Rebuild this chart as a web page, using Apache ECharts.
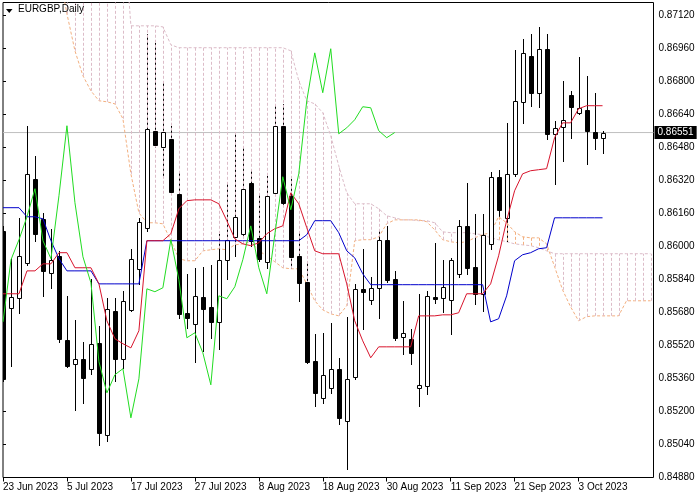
<!DOCTYPE html>
<html><head><meta charset="utf-8">
<script src="https://cdn.jsdelivr.net/npm/echarts@6/dist/echarts.min.js"></script>
<style>html,body{margin:0;padding:0;background:#fff}#c{width:700px;height:500px}</style>
</head><body><div id="c"></div>
<script>
// ---- data (EURGBP Daily, 23 Jun 2023 .. 6 Oct 2023) ----
const opens = [
 0.86075,0.85702,0.85751,0.85920,0.86327,0.86133,0.85872,0.85954,0.85547,0.85431,
 0.85455,0.85407,0.85533,0.85087,0.85688,0.85455,0.85692,0.85891,0.86090,0.86560,
 0.86482,0.86521,0.86254,0.85678,0.85624,0.85755,0.85707,0.85634,0.85935,0.86046,
 0.86061,0.86308,0.86041,0.85925,0.86259,0.86584,0.86245,0.85954,0.85828,0.85446,
 0.85266,0.85315,0.85407,0.85155,0.85368,0.85794,0.85741,0.85799,0.86032,0.85843,
 0.85562,0.85552,0.85315,0.85324,0.85755,0.85751,0.85741,0.85867,0.86099,0.85901,
 0.85770,0.86012,0.86337,0.86138,0.86351,0.86700,0.86923,0.86744,0.86957,0.86545,
 0.86579,0.86734,0.86647,0.86661,0.86555,0.86526];
const closes = [
 0.85358,0.85755,0.85954,0.86351,0.86061,0.85881,0.85935,0.85552,0.85421,0.85455,
 0.85363,0.85528,0.85097,0.85697,0.85455,0.85736,0.85940,0.86119,0.86569,0.86492,
 0.86555,0.86264,0.85673,0.85654,0.85760,0.85697,0.85634,0.85935,0.86032,0.86143,
 0.86279,0.86027,0.85940,0.86245,0.86584,0.86211,0.85949,0.85823,0.85441,0.85290,
 0.85378,0.85407,0.85169,0.85358,0.85794,0.85780,0.85799,0.86032,0.85838,0.85557,
 0.85581,0.85484,0.85329,0.85760,0.85746,0.85804,0.85935,0.86099,0.85896,0.85770,
 0.86056,0.86337,0.86177,0.86351,0.86705,0.86937,0.86744,0.86957,0.86545,0.86574,
 0.86613,0.86676,0.86671,0.86560,0.86526,0.86551];
const lows = [
 0.85349,0.85421,0.85678,0.85911,0.86027,0.85760,0.85799,0.85538,0.85416,0.85208,
 0.85242,0.85383,0.85039,0.85058,0.85349,0.85411,0.85688,0.85818,0.86075,0.86482,
 0.86342,0.86254,0.85654,0.85605,0.85441,0.85494,0.85557,0.85504,0.85843,0.85954,
 0.86046,0.86003,0.85930,0.85896,0.86250,0.86196,0.85896,0.85736,0.85436,0.85228,
 0.85242,0.85290,0.85140,0.84922,0.85358,0.85600,0.85722,0.85654,0.85828,0.85547,
 0.85479,0.85431,0.85228,0.85286,0.85726,0.85683,0.85576,0.85852,0.85867,0.85722,
 0.85688,0.85988,0.86138,0.86027,0.86342,0.86598,0.86681,0.86676,0.86521,0.86303,
 0.86414,0.86526,0.86642,0.86400,0.86472,0.86453];
const highs = [
 0.86099,0.85944,0.86138,0.86584,0.86439,0.86162,0.86085,0.85978,0.85760,0.85644,
 0.85538,0.85843,0.85615,0.85751,0.85751,0.85785,0.85988,0.86138,0.87029,0.86986,
 0.86792,0.86584,0.86357,0.85867,0.85896,0.85901,0.85911,0.86061,0.86303,0.86550,
 0.86487,0.86376,0.86254,0.86342,0.86690,0.86690,0.86327,0.86075,0.85930,0.85576,
 0.85581,0.85629,0.85460,0.85659,0.85818,0.85988,0.85852,0.86075,0.86099,0.85881,
 0.85736,0.85600,0.85770,0.85785,0.86017,0.85935,0.85944,0.86128,0.86308,0.86157,
 0.86157,0.86361,0.86371,0.86598,0.86952,0.87005,0.87029,0.87063,0.87029,0.86608,
 0.86802,0.86753,0.86918,0.86826,0.86744,0.86560];
const tenkan = [
 0.85770,0.85770,0.85770,0.85881,0.85881,0.85915,0.85915,0.85969,0.85969,0.85896,
 0.85896,0.85896,0.85818,0.85639,0.85552,0.85528,0.85508,0.85591,0.86027,0.86027,
 0.86027,0.86061,0.86182,0.86221,0.86225,0.86225,0.86225,0.86206,0.86124,0.86036,
 0.86012,0.86003,0.86017,0.86061,0.86085,0.86099,0.86259,0.86206,0.86090,0.85978,
 0.85964,0.85964,0.85964,0.85818,0.85639,0.85542,0.85460,0.85513,0.85513,0.85513,
 0.85513,0.85513,0.85663,0.85663,0.85663,0.85668,0.85668,0.85678,0.85770,0.85770,
 0.85770,0.85818,0.85954,0.86124,0.86269,0.86351,0.86366,0.86371,0.86376,0.86526,
 0.86598,0.86598,0.86666,0.86681,0.86681,0.86681];
const kijun = [
 0.86187,0.86187,0.86187,0.86143,0.86143,0.86133,0.86027,0.85940,0.85881,0.85881,
 0.85881,0.85881,0.85818,0.85818,0.85818,0.85818,0.85818,0.85818,0.86027,0.86027,
 0.86027,0.86027,0.86027,0.86027,0.86027,0.86027,0.86027,0.86027,0.86027,0.86027,
 0.86027,0.86027,0.86027,0.86027,0.86027,0.86027,0.86027,0.86027,0.86056,0.86124,
 0.86124,0.86124,0.86066,0.85978,0.85944,0.85867,0.85814,0.85814,0.85814,0.85814,
 0.85814,0.85814,0.85814,0.85814,0.85814,0.85814,0.85814,0.85814,0.85814,0.85814,
 0.85814,0.85634,0.85649,0.85760,0.85930,0.85959,0.85969,0.85988,0.85993,0.86138,
 0.86138,0.86138,0.86138,0.86138,0.86138,0.86138];
const chikou = [
 0.85634,0.85935,0.86032,0.86143,0.86279,0.86027,0.85940,0.86245,0.86584,0.86211,
 0.85949,0.85823,0.85441,0.85290,0.85378,0.85407,0.85169,0.85358,0.85794,0.85780,
 0.85799,0.86032,0.85838,0.85557,0.85581,0.85484,0.85329,0.85760,0.85746,0.85804,
 0.85935,0.86099,0.85896,0.85770,0.86056,0.86337,0.86177,0.86351,0.86705,0.86937,
 0.86744,0.86957,0.86545,0.86574,0.86613,0.86676,0.86671,0.86560,0.86526,0.86551];
const spanA = [
 0.87500,0.87500,0.87500,0.87500,0.87500,0.87500,0.87500,0.87335,0.87126,0.86947,
 0.86826,0.86753,0.86705,0.86700,0.86690,0.86618,0.86351,0.86162,0.86114,0.86114,
 0.86109,0.86027,0.85940,0.85930,0.85930,0.85978,0.85983,0.85988,0.85983,0.86007,
 0.86012,0.86022,0.85978,0.85954,0.85925,0.85896,0.85891,0.85891,0.85818,0.85736,
 0.85692,0.85673,0.85663,0.85712,0.86027,0.86032,0.86032,0.86046,0.86109,0.86128,
 0.86128,0.86128,0.86128,0.86119,0.86080,0.86032,0.86022,0.86017,0.86022,0.86041,
 0.86056,0.86066,0.86143,0.86114,0.86070,0.86046,0.86041,0.86041,0.86012,0.85901,
 0.85789,0.85707,0.85639,0.85659,0.85663,0.85663,0.85663,0.85663,0.85736,0.85736,
 0.85736,0.85736];
const spanB = [
 0.87600,0.87600,0.87600,0.87600,0.87600,0.87600,0.87600,0.87600,0.87600,0.87600,
 0.87600,0.87600,0.87600,0.87600,0.87600,0.87600,0.87068,0.87068,0.87068,0.87068,
 0.87063,0.86976,0.86962,0.86962,0.86962,0.86962,0.86962,0.86962,0.86962,0.86962,
 0.86962,0.86962,0.86962,0.86962,0.86962,0.86962,0.86947,0.86802,0.86705,0.86690,
 0.86647,0.86535,0.86390,0.86259,0.86206,0.86206,0.86206,0.86182,0.86148,0.86138,
 0.86128,0.86128,0.86124,0.86124,0.86114,0.86070,0.86066,0.86066,0.86066,0.86061,
 0.86056,0.86041,0.86032,0.86022,0.86012,0.86007,0.86003,0.85993,0.85978,0.85964,
 0.85964,0.85964,0.85964,0.85964,0.85964,0.85964,0.85964,0.85964,0.85964,0.85964,
 0.85964,0.85964];
const xTickIndex = [0, 8, 16, 24, 32, 40, 48, 56, 64, 72];
const xTickLabels = ['23 Jun 2023','5 Jul 2023','17 Jul 2023','27 Jul 2023','8 Aug 2023',
  '18 Aug 2023','30 Aug 2023','11 Sep 2023','21 Sep 2023','3 Oct 2023'];
const yTicks = [0.8488,0.8504,0.8520,0.8536,0.8552,0.8568,0.8584,0.8600,0.8616,0.8632,
  0.8648,0.8664,0.8680,0.8696,0.8712];
const lastPrice = 0.86551;
const symbolTitle = 'EURGBP,Daily';

// ---- styles ----
const FONT = 'Liberation Sans, Arial, sans-serif';
const SANDY = '#f3b080';
const THISTLE = '#dcbcc8';
const RED = '#d8142c';
const BLUE = '#0000cc';
const LIME = '#22dd22';
const X_MIN = 0, X_MAX = 81.375;

const candleWicks = closes.map((c, i) => [i, lows[i], highs[i]]);
const candleBodies = closes.map((c, i) => [i, opens[i], c]);
const kumo = spanA.map((a, i) => [i, a, spanB[i]]);
const pts = arr => arr.map((v, i) => [i, v]);

function wickItem(params, api) {
  const i = api.value(0);
  const pl = api.coord([i, api.value(1)]);
  const ph = api.coord([i, api.value(2)]);
  const x = Math.round(pl[0]) + 0.5;
  return { type: 'line', shape: { x1: x, y1: Math.round(ph[1]), x2: x, y2: Math.round(pl[1]) + 1 },
    style: { stroke: '#000', lineWidth: 1 } };
}
function bodyItem(params, api) {
  const i = api.value(0), o = api.value(1), c = api.value(2);
  const po = api.coord([i, o]), pc = api.coord([i, c]);
  const cx = Math.round(po[0]);
  let y0 = Math.round(Math.min(po[1], pc[1])), y1 = Math.round(Math.max(po[1], pc[1]));
  if (y1 - y0 < 1) y1 = y0 + 1;
  const up = c >= o;
  return { type: 'rect', shape: { x: cx - 1.5, y: y0 + 0.5, width: 4, height: y1 - y0 },
    style: { fill: up ? '#fff' : '#000', stroke: '#000', lineWidth: 1 } };
}
function hatchItem(params, api) {
  const i = api.value(0), a = api.value(1), b = api.value(2);
  const pa = api.coord([i, a]), pb = api.coord([i, b]);
  const x = Math.round(pa[0]) + 0.5;
  return { type: 'line', shape: { x1: x, y1: pa[1], x2: x, y2: pb[1] },
    style: { stroke: a > b ? SANDY : THISTLE, lineWidth: 1, lineDash: [3, 2] } };
}

const chart = echarts.init(document.getElementById('c'), null, { renderer: 'canvas' });
chart.setOption({
  animation: false,
  backgroundColor: '#fff',
  textStyle: { fontFamily: FONT },
  grid: { left: 2.5, right: 46.5, top: 2.5, bottom: 22.5, show: true, borderColor: '#000', borderWidth: 1, backgroundColor: 'transparent' },
  xAxis: {
    type: 'value', min: X_MIN, max: X_MAX,
    axisLine: { show: false },
    splitLine: { show: false },
    axisTick: { show: true, length: 4, lineStyle: { color: '#000' }, customValues: xTickIndex },
    axisLabel: { show: true, customValues: xTickIndex, align: 'left', margin: 5, color: '#000', fontSize: 10, fontFamily: FONT,
      formatter: v => { const k = xTickIndex.indexOf(Math.round(v)); return k >= 0 ? xTickLabels[k] : ''; } }
  },
  yAxis: {
    type: 'value', position: 'right', min: 0.8488, max: 0.87181, scale: true,
    axisLine: { show: false },
    splitLine: { show: false },
    axisTick: { show: true, length: 3, lineStyle: { color: '#000' }, customValues: yTicks },
    axisLabel: { show: true, customValues: yTicks, margin: 5, color: '#000', fontSize: 10, fontFamily: FONT,
      formatter: v => v.toFixed(5) }
  },
  graphic: [
    { type: 'polygon', shape: { points: [[6, 9], [12.5, 9], [9.25, 13]] }, style: { fill: '#000' }, z: 100 },
    { type: 'text', left: 18, top: 4, style: { text: symbolTitle, fill: '#000', font: '10px ' + FONT }, z: 100 }
  ],
  series: [
    { type: 'line', name: 'Price', data: [[X_MIN, lastPrice], [X_MAX, lastPrice]], z: 1, showSymbol: false, silent: true,
      clip: false,
      lineStyle: { color: '#c0c0c0', width: 1 },
      endLabel: { show: true, distance: 1, formatter: () => lastPrice.toFixed(5),
        backgroundColor: '#000', color: '#fff', padding: [2, 3, 1, 3], fontSize: 10, fontFamily: FONT } },
    { type: 'line', name: 'Senkou B', data: pts(spanB), z: 2, showSymbol: false, silent: true,
      lineStyle: { color: THISTLE, width: 1, type: [3, 2] } },
    { type: 'line', name: 'Senkou A', data: pts(spanA), z: 2, showSymbol: false, silent: true,
      lineStyle: { color: SANDY, width: 1, type: [3, 2] } },
    { type: 'custom', name: 'wicks', data: candleWicks, renderItem: wickItem, z: 3, clip: true, silent: true,
      encode: { x: 0, y: [1, 2] } },
    { type: 'custom', name: 'kumo', data: kumo, renderItem: hatchItem, z: 4, clip: true, silent: true,
      encode: { x: 0, y: [1, 2] } },
    { type: 'custom', name: 'bodies', data: candleBodies, renderItem: bodyItem, z: 5, clip: true, silent: true,
      encode: { x: 0, y: [1, 2] } },
    { type: 'line', name: 'Kijun', data: pts(kijun), z: 6, showSymbol: false, silent: true,
      lineStyle: { color: BLUE, width: 1 } },
    { type: 'line', name: 'Tenkan', data: pts(tenkan), z: 6, showSymbol: false, silent: true,
      lineStyle: { color: RED, width: 1 } },
    { type: 'line', name: 'Chikou', data: pts(chikou), z: 6, showSymbol: false, silent: true,
      lineStyle: { color: LIME, width: 1 } }
  ]
});
</script>
</body></html>
